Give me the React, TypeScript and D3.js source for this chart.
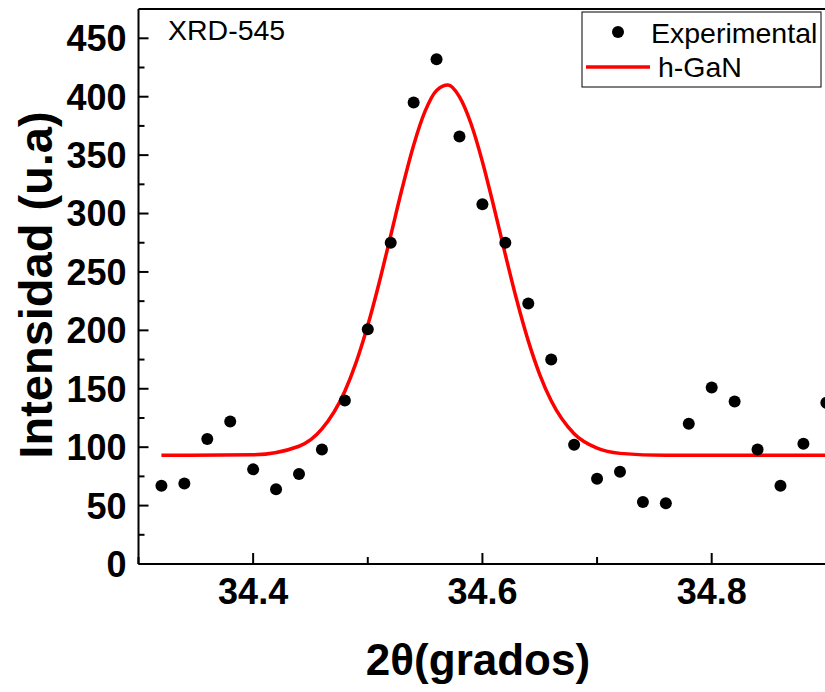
import React from "react";
import * as d3 from "d3";

const expX = [34.32, 34.34, 34.36, 34.38, 34.40, 34.42, 34.44, 34.46, 34.48, 34.50, 34.52, 34.54, 34.56, 34.58, 34.60, 34.62, 34.64, 34.66, 34.68, 34.70, 34.72, 34.74, 34.76, 34.78, 34.80, 34.82, 34.84, 34.86, 34.88, 34.90];
const expY = [67, 69, 107, 122, 81, 64, 77, 98, 140, 201, 275, 395, 432, 366, 308, 275, 223, 175, 102, 73, 79, 53, 52, 120, 151, 139, 98, 67, 103, 138];

const fitX = [34.32, 34.40, 34.44, 34.46, 34.48, 34.49, 34.50, 34.51, 34.52, 34.53, 34.54, 34.55, 34.56, 34.57, 34.58, 34.59, 34.60, 34.61, 34.62, 34.63, 34.64, 34.65, 34.66, 34.68, 34.70, 34.72, 34.76, 34.95];
const fitY = [93, 93.5, 100.8, 115.6, 147.9, 173, 204.3, 241, 281.2, 321.6, 358.5, 387.6, 405.4, 410, 399.9, 377.1, 344.4, 305.6, 264.9, 225.8, 191, 162.2, 139.7, 111.5, 99.1, 94.7, 93, 93];

const yTicks = [0, 50, 100, 150, 200, 250, 300, 350, 400, 450];
const yMinor = [25, 75, 125, 175, 225, 275, 325, 375, 425];
const xTicks = [34.4, 34.6, 34.8];
const xMinor = [34.3, 34.5, 34.7, 34.9];

const legendLabels = ["Experimental", "h-GaN"];
const sampleLabel = "XRD-545";

const W = 825;
const H = 692;
const L = 138.5;
const T = 9;
const B = 564;
const x = d3.scaleLinear().domain([34.3, 34.8]).range([L, 711.7]);
const y = d3.scaleLinear().domain([0, 450]).range([B, 38.3]);

export default function App() {
  const line = d3
    .line<number>()
    .x((_, i) => x(fitX[i]))
    .y((d) => y(d))
    .curve(d3.curveMonotoneX);
  const font = "'Liberation Sans', Arial, sans-serif";
  const right = x(35.0);
  return (
    <svg
      width={W}
      height={H}
      style={{ position: "absolute", left: 0, top: 0, display: "block", background: "#fff" }}
      fontFamily={font}
    >
      <defs>
        <clipPath id="plot">
          <rect x={L} y={T} width={right - L} height={B - T} />
        </clipPath>
      </defs>
      {/* fit */}
      <path d={line(fitY) || ""} fill="none" stroke="#ff0000" strokeWidth={3.5} clipPath="url(#plot)" />
      {/* points */}
      {expY.map((v, i) => (
        <circle key={i} cx={x(expX[i])} cy={y(v)} r={6} fill="#000" />
      ))}
      {/* axes */}
      <line x1={L} x2={L} y1={T} y2={B} stroke="#000" strokeWidth={2} />
      <line x1={L} x2={right} y1={B} y2={B} stroke="#000" strokeWidth={2} />
      <line x1={L} x2={right} y1={T} y2={T} stroke="#000" strokeWidth={2} />
      {yTicks.map((t) => (
        <g key={t}>
          <line x1={L} x2={L + 10} y1={y(t)} y2={y(t)} stroke="#000" strokeWidth={2} />
          <text x={L - 12} y={y(t)} dy="0.36em" textAnchor="end" fontSize={36} fontWeight="bold">
            {t}
          </text>
        </g>
      ))}
      {yMinor.map((t) => (
        <line key={t} x1={L} x2={L + 6} y1={y(t)} y2={y(t)} stroke="#000" strokeWidth={2} />
      ))}
      {xTicks.map((t) => (
        <g key={t}>
          <line x1={x(t)} x2={x(t)} y1={B} y2={B - 11} stroke="#000" strokeWidth={2} />
          <text x={x(t)} y={604} textAnchor="middle" fontSize={36} fontWeight="bold">
            {t.toFixed(1)}
          </text>
        </g>
      ))}
      {xMinor.map((t) => (
        <line key={t} x1={x(t)} x2={x(t)} y1={B} y2={B - 7} stroke="#000" strokeWidth={2} />
      ))}
      {/* titles */}
      <text x={478} y={675} textAnchor="middle" fontSize={44} fontWeight="bold">
        2θ(grados)
      </text>
      <text
        transform={`translate(52, 285) rotate(-90)`}
        textAnchor="middle"
        fontSize={47}
        fontWeight="bold"
      >
        Intensidad (u.a)
      </text>
      <text x={168} y={40} fontSize={28.5}>
        {sampleLabel}
      </text>
      {/* legend */}
      <rect x={582} y={12} width={239} height={75} fill="#fff" stroke="#000" strokeWidth={1} />
      <circle cx={618} cy={32} r={6} fill="#000" />
      <text x={651} y={42.5} fontSize={28.5}>
        {legendLabels[0]}
      </text>
      <line x1={586} x2={650} y1={67} y2={67} stroke="#ff0000" strokeWidth={3.5} />
      <text x={658} y={77} fontSize={28.5}>
        {legendLabels[1]}
      </text>
    </svg>
  );
}
